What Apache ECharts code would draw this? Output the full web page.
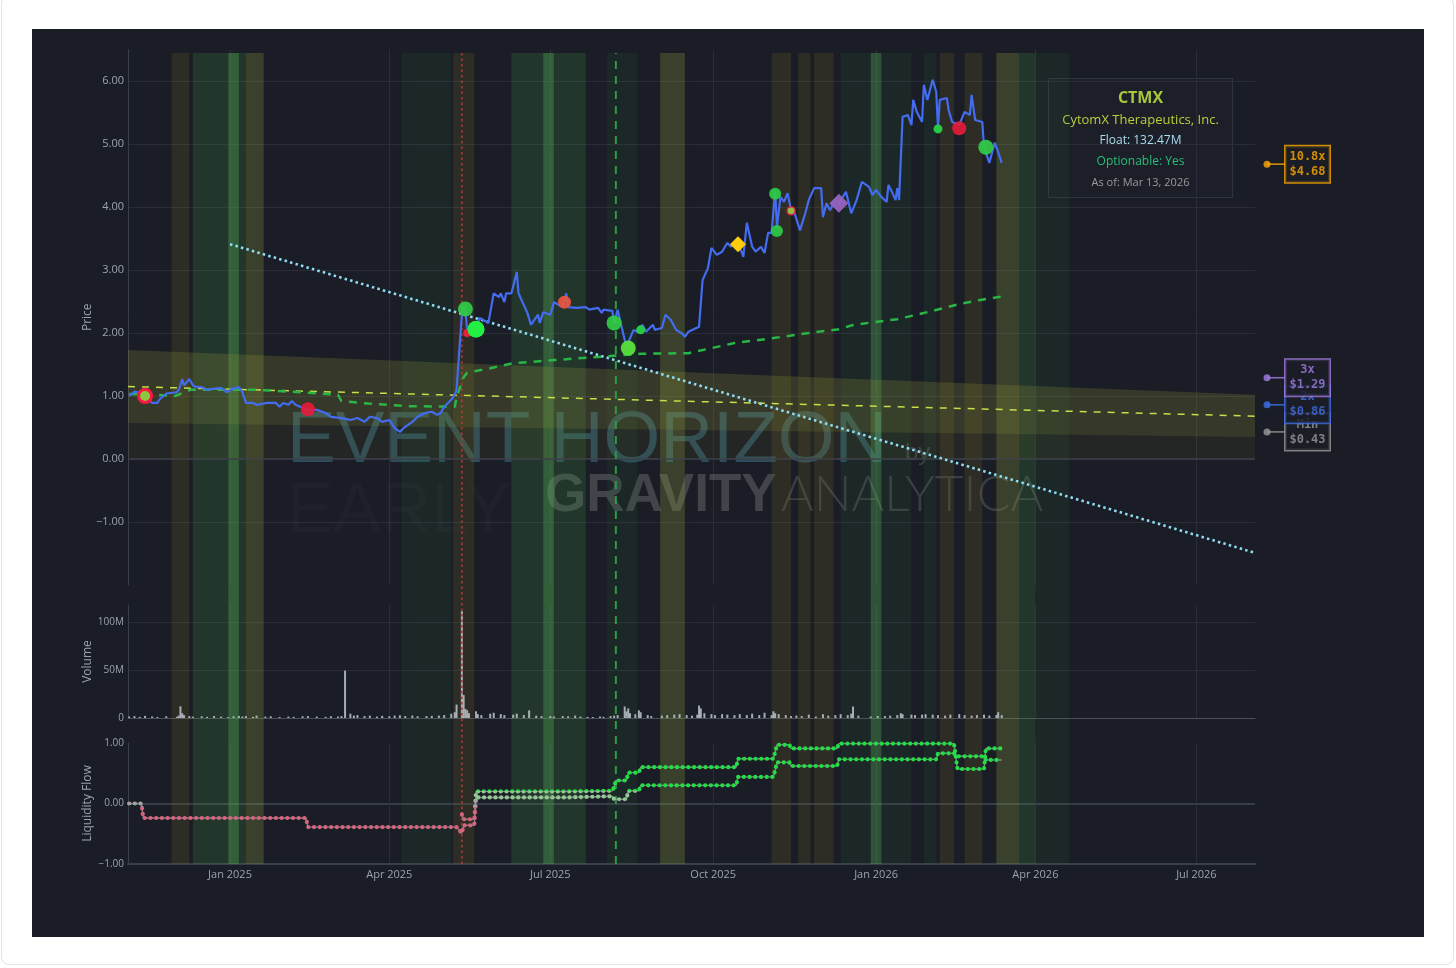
<!DOCTYPE html>
<html><head><meta charset="utf-8">
<script src="https://cdn.jsdelivr.net/npm/echarts@6/dist/echarts.min.js"></script>
<style>
html,body{margin:0;padding:0;background:#fff;width:1456px;height:968px;overflow:hidden}
#frame{position:absolute;left:1px;top:-4px;width:1453px;height:969px;border:1px solid #e2e3e6;border-radius:8px;box-sizing:border-box}
#panel{position:absolute;left:32px;top:29px;width:1392px;height:908px;background:#1a1d25}
#chart{position:absolute;left:0;top:0;width:1456px;height:968px}
</style></head><body>
<div id="frame"></div><div id="panel"></div><div id="chart"></div>
<script>
// ---------------- DATA ----------------
const priceSeries = [
['2024-11-05',1.00],['2024-11-08',1.07],['2024-11-11',1.05],['2024-11-14',1.00],['2024-11-18',0.89],['2024-11-19',0.86],['2024-11-21',0.89],['2024-11-22',0.94],['2024-11-26',1.04],['2024-12-02',1.06],['2024-12-03',1.10],['2024-12-04',1.17],['2024-12-05',1.27],['2024-12-06',1.17],['2024-12-09',1.27],['2024-12-11',1.17],['2024-12-13',1.14],['2024-12-16',1.14],['2024-12-19',1.10],['2024-12-20',1.13],['2024-12-27',1.13],['2024-12-30',1.06],
['2025-01-02',1.11],['2025-01-06',1.14],['2025-01-08',1.06],['2025-01-10',0.89],['2025-01-14',0.89],['2025-01-16',0.86],['2025-01-22',0.89],['2025-01-27',0.89],['2025-01-29',0.83],['2025-01-31',0.89],['2025-02-03',0.86],['2025-02-05',0.92],['2025-02-07',0.86],['2025-02-14',0.78],['2025-02-19',0.78],['2025-02-24',0.73],['2025-02-27',0.67],['2025-03-05',0.65],['2025-03-10',0.62],['2025-03-14',0.65],['2025-03-18',0.59],['2025-03-21',0.67],['2025-03-25',0.65],['2025-03-28',0.59],['2025-04-01',0.62],['2025-04-04',0.49],['2025-04-07',0.43],['2025-04-09',0.49],['2025-04-14',0.59],['2025-04-17',0.67],['2025-04-21',0.73],['2025-04-25',0.75],['2025-04-28',0.70],['2025-04-30',0.73],['2025-05-02',0.83],['2025-05-06',0.94],['2025-05-08',1.02],['2025-05-09',1.10],
['2025-05-12',2.30],['2025-05-13',2.42],['2025-05-14',2.38],['2025-05-15',2.02],['2025-05-20',2.08],['2025-05-22',2.24],['2025-05-27',2.16],['2025-05-30',2.63],['2025-06-02',2.57],['2025-06-03',2.63],['2025-06-05',2.49],['2025-06-06',2.63],['2025-06-09',2.63],['2025-06-12',2.97],['2025-06-13',2.63],['2025-06-18',2.32],['2025-06-20',2.13],['2025-06-24',2.29],['2025-06-25',2.16],['2025-06-27',2.33],['2025-07-01',2.29],['2025-07-03',2.49],['2025-07-08',2.41],['2025-07-10',2.63],['2025-07-11',2.41],['2025-07-16',2.40],['2025-07-21',2.41],['2025-07-23',2.37],['2025-07-28',2.40],['2025-07-30',2.32],['2025-07-31',2.37],['2025-08-05',2.35],['2025-08-06',2.16],['2025-08-08',2.37],['2025-08-12',1.89],['2025-08-13',1.78],['2025-08-17',2.05],['2025-08-19',2.02],['2025-08-22',2.13],['2025-08-24',2.02],['2025-08-28',2.13],['2025-08-29',2.05],['2025-09-02',2.08],['2025-09-04',2.29],['2025-09-07',2.21],['2025-09-10',2.05],['2025-09-13',2.00],['2025-09-15',1.94],['2025-09-17',2.02],['2025-09-18',2.00],['2025-09-23',2.10],['2025-09-25',2.84],['2025-09-28',3.03],['2025-09-30',3.35],
['2025-10-03',3.24],['2025-10-06',3.29],['2025-10-09',3.43],['2025-10-11',3.37],['2025-10-14',3.44],['2025-10-17',3.29],['2025-10-18',3.21],['2025-10-20',3.75],['2025-10-23',3.37],['2025-10-25',3.29],['2025-10-28',3.37],['2025-10-30',3.27],['2025-11-01',3.59],['2025-11-03',3.59],['2025-11-05',4.27],['2025-11-06',3.68],['2025-11-08',4.16],['2025-11-10',4.08],['2025-11-12',4.22],['2025-11-14',3.95],['2025-11-16',3.90],['2025-11-19',3.63],['2025-11-22',3.90],['2025-11-24',4.11],['2025-11-27',4.30],['2025-12-01',4.30],['2025-12-02',3.84],['2025-12-04',4.06],['2025-12-06',3.95],['2025-12-09',4.11],['2025-12-11',4.06],['2025-12-15',4.24],['2025-12-18',3.90],['2025-12-21',4.11],['2025-12-24',4.40],['2025-12-28',4.32],['2025-12-30',4.19],
['2026-01-01',4.27],['2026-01-04',4.16],['2026-01-07',4.08],['2026-01-08',4.35],['2026-01-10',4.24],['2026-01-12',4.11],['2026-01-13',4.30],['2026-01-14',4.11],['2026-01-16',5.43],['2026-01-19',5.46],['2026-01-21',5.30],['2026-01-22',5.70],['2026-01-24',5.51],['2026-01-27',5.35],['2026-01-28',5.94],['2026-01-30',5.70],['2026-02-02',6.02],['2026-02-04',5.83],['2026-02-05',5.25],['2026-02-06',5.70],['2026-02-10',5.73],['2026-02-11',5.54],['2026-02-13',5.35],['2026-02-17',5.30],['2026-02-20',5.51],['2026-02-23',5.46],['2026-02-24',5.78],['2026-02-26',5.38],['2026-03-02',5.35],['2026-03-03',4.95],['2026-03-06',4.70],['2026-03-09',5.02],['2026-03-11',4.87],['2026-03-13',4.70]
];
const smaSeries = [
['2024-11-05',1.03],['2024-11-20',1.02],['2024-12-01',1.00],['2024-12-10',1.10],['2025-01-15',1.10],['2025-02-10',1.06],['2025-03-03',1.02],['2025-03-05',0.92],['2025-03-20',0.88],['2025-04-10',0.84],['2025-05-08',0.83],['2025-05-09',0.98],['2025-05-13',1.30],['2025-05-15',1.37],['2025-05-28',1.44],['2025-06-10',1.52],['2025-07-03',1.57],['2025-07-28',1.62],['2025-08-21',1.67],['2025-09-17',1.68],['2025-09-30',1.76],['2025-10-13',1.84],['2025-11-04',1.92],['2025-11-24',2.00],['2025-12-11',2.06],['2025-12-18',2.12],['2025-12-30',2.17],['2026-01-13',2.22],['2026-01-24',2.29],['2026-02-06',2.38],['2026-02-17',2.46],['2026-02-28',2.52],['2026-03-13',2.58]
];
const regressionDates = ['2024-11-04','2026-08-03'];
const regressionValues = [1.15, 0.68];
const channelOuterUpper = [1.73, 1.02];
const channelOuterLower = [0.00, 0.00];
const channelInnerUpper = [1.73, 1.02];
const channelInnerLower = [0.57, 0.35];
const trendDates = ['2025-01-01','2026-08-03'];
const trendValues = [3.41, -1.49];
const signals = [
['2024-11-14',1.00,'ring'],['2025-02-14',0.79,'red'],['2025-05-14',2.38,'green'],['2025-05-15',2.00,'redSmall'],['2025-05-20',2.06,'lime'],['2025-07-09',2.49,'orange'],['2025-08-06',2.16,'green'],['2025-08-14',1.76,'lime2'],['2025-08-21',2.05,'greenSmall'],['2025-10-15',3.41,'yellowDiamond'],['2025-11-05',4.21,'greenMid'],['2025-11-06',3.62,'greenMid'],['2025-11-14',3.94,'oliveRed'],['2025-12-11',4.06,'purpleDiamond'],['2026-02-05',5.24,'greenSmall'],['2026-02-17',5.25,'red'],['2026-03-04',4.95,'green']
];
const volumeSeries = [ // millions of shares
['2024-11-05',1.5],['2024-11-08',2.0],['2024-11-11',1.2],['2024-11-14',2.2],['2024-11-18',1.5],['2024-11-21',1.0],['2024-11-26',1.8],['2024-12-02',1.2],['2024-12-03',2.5],['2024-12-04',12.2],['2024-12-05',5],['2024-12-06',3],['2024-12-09',2],['2024-12-11',1.5],['2024-12-16',1.8],['2024-12-19',1.2],['2024-12-23',2],['2024-12-27',1.5],['2024-12-31',1],['2025-01-03',1.8],['2025-01-06',2.2],['2025-01-08',1.5],['2025-01-10',2],['2025-01-14',1.2],['2025-01-16',2.5],['2025-01-21',1.5],['2025-01-24',1.8],['2025-01-29',1.0],['2025-02-03',1.5],['2025-02-06',1.2],['2025-02-11',1.8],['2025-02-14',2],['2025-02-19',1.5],['2025-02-24',1.2],['2025-02-27',1.8],['2025-03-03',1.5],['2025-03-05',2.0],['2025-03-07',49.5],['2025-03-10',4.5],['2025-03-12',2.5],['2025-03-14',3.0],['2025-03-18',2.0],['2025-03-21',2.5],['2025-03-25',1.5],['2025-03-28',2.2],['2025-04-01',1.8],['2025-04-04',2.5],['2025-04-07',2.8],['2025-04-10',2.0],['2025-04-14',2.5],['2025-04-17',1.8],['2025-04-22',2.0],['2025-04-25',2.2],['2025-04-29',2.5],['2025-05-02',3.0],['2025-05-06',4.5],['2025-05-08',6],['2025-05-09',14],['2025-05-12',111.5],['2025-05-13',24],['2025-05-14',9.5],['2025-05-15',8],['2025-05-16',5],['2025-05-20',7],['2025-05-21',4],['2025-05-23',3],['2025-05-28',4.5],['2025-05-30',5.5],['2025-06-03',4],['2025-06-05',3],['2025-06-10',3.5],['2025-06-12',4.5],['2025-06-16',3],['2025-06-19',8],['2025-06-23',2.5],['2025-06-26',2],['2025-07-01',2],['2025-07-03',1.5],['2025-07-08',2],['2025-07-11',1.8],['2025-07-15',2.5],['2025-07-18',1.5],['2025-07-22',1.2],['2025-07-25',1.0],['2025-07-29',1.5],['2025-07-31',1.2],['2025-08-04',2],['2025-08-06',2.5],['2025-08-08',3],['2025-08-12',12],['2025-08-13',7],['2025-08-14',10],['2025-08-15',5],['2025-08-18',4],['2025-08-20',8],['2025-08-21',6],['2025-08-25',3],['2025-08-27',2],['2025-09-02',2.5],['2025-09-05',3],['2025-09-09',3.5],['2025-09-12',4],['2025-09-16',3],['2025-09-19',2.5],['2025-09-22',3.5],['2025-09-23',13],['2025-09-24',10],['2025-09-26',5],['2025-09-30',4],['2025-10-02',3],['2025-10-06',4],['2025-10-09',3.5],['2025-10-13',3],['2025-10-16',4],['2025-10-20',3],['2025-10-23',4.5],['2025-10-27',3],['2025-10-30',5.5],['2025-11-03',3],['2025-11-04',7],['2025-11-05',5],['2025-11-07',4],['2025-11-11',3],['2025-11-14',2],['2025-11-17',2.5],['2025-11-20',2],['2025-11-24',3.5],['2025-11-28',1.5],['2025-12-02',4],['2025-12-05',2.5],['2025-12-09',3],['2025-12-12',4],['2025-12-16',3],['2025-12-18',4.5],['2025-12-19',12],['2025-12-22',2.5],['2025-12-29',1.5],['2026-01-02',2],['2026-01-06',2],['2026-01-09',2.5],['2026-01-13',3],['2026-01-15',5],['2026-01-16',4],['2026-01-21',3.5],['2026-01-23',3],['2026-01-27',3.5],['2026-01-29',4],['2026-02-02',3.5],['2026-02-05',3],['2026-02-09',2.5],['2026-02-12',3.5],['2026-02-17',4],['2026-02-20',3],['2026-02-24',2.5],['2026-02-27',3],['2026-03-03',3.5],['2026-03-06',2.5],['2026-03-10',3],['2026-03-11',6],['2026-03-13',3]
];
const liquidityLower = [
['2024-11-05',0],['2024-11-12',0],['2024-11-13',-0.24],['2025-02-13',-0.24],['2025-02-14',-0.39],['2025-05-09',-0.39],['2025-05-12',-0.49],['2025-05-13',-0.36],['2025-05-19',-0.36],['2025-05-20',0.10],['2025-07-10',0.10],['2025-07-11',0.12],['2025-08-05',0.12],['2025-08-06',0.07],['2025-08-13',0.07],['2025-08-14',0.21],['2025-08-20',0.21],['2025-08-21',0.30],['2025-10-14',0.30],['2025-10-15',0.44],['2025-11-04',0.44],['2025-11-05',0.55],['2025-11-06',0.68],['2025-11-13',0.68],['2025-11-14',0.62],['2025-12-10',0.62],['2025-12-11',0.73],['2026-02-04',0.73],['2026-02-05',0.83],['2026-02-14',0.83],['2026-02-16',0.78],['2026-03-03',0.78],['2026-03-04',0.72],['2026-03-13',0.72]
];
const liquidityUpper = [
['2025-05-12',-0.18],['2025-05-13',-0.26],['2025-05-19',-0.26],['2025-05-20',0.20],['2025-07-10',0.20],['2025-07-11',0.21],['2025-08-05',0.21],['2025-08-06',0.27],['2025-08-07',0.38],['2025-08-13',0.38],['2025-08-14',0.51],['2025-08-20',0.51],['2025-08-21',0.60],['2025-10-14',0.60],['2025-10-15',0.74],['2025-11-04',0.74],['2025-11-05',0.85],['2025-11-06',0.97],['2025-11-13',0.97],['2025-11-14',0.91],['2025-12-10',0.91],['2025-12-11',0.99],['2026-02-14',0.99],['2026-02-16',0.57],['2026-03-03',0.57],['2026-03-04',0.91],['2026-03-13',0.91]
];
const bandStarts = ['2024-11-29','2024-12-11','2024-12-31','2025-01-10','2025-04-08','2025-05-07','2025-06-09','2025-06-27','2025-08-02','2025-09-01','2025-11-03','2025-11-18','2025-11-27','2025-12-12','2025-12-29','2026-01-28','2026-02-06','2026-02-20','2026-03-10','2026-03-23','2026-04-01'];
const bandEnds   = ['2024-12-09','2025-01-10','2025-01-06','2025-01-20','2025-05-06','2025-05-19','2025-07-21','2025-07-03','2025-08-19','2025-09-15','2025-11-14','2025-11-25','2025-12-08','2026-01-21','2026-01-04','2026-02-04','2026-02-14','2026-03-02','2026-03-23','2026-04-01','2026-04-20'];
const bandKinds  = ['brown','green','bright','olive','dark','brown','green','bright','dark','olive','brown','brown','brown','dark','bright','dark','brown','brown','olive','green','dark'];
const eventDates = ['2025-05-12','2025-08-07'];
const eventKinds = ['red','green'];
const tickDates  = ['2025-01-01','2025-04-01','2025-07-01','2025-10-01','2026-01-01','2026-04-01','2026-07-01'];
const tickLabels = ['Jan 2025','Apr 2025','Jul 2025','Oct 2025','Jan 2026','Apr 2026','Jul 2026'];
const levelNames  = ['Min','2x','3x','10.8x'];
const levelPrices = [0.43, 0.86, 1.29, 4.68];
const levelColors = ['#9a9a9a','#3f6fe8','#a27ee6','#ffaa00'];

// ---------------- HELPERS ----------------
const tp = s => Date.UTC(+s.slice(0,4), +s.slice(5,7) - 1, +s.slice(8,10));
const DAY = 864e5;
const X_MIN = tp('2025-01-01') - 57.63 * DAY;
const X_MAX = tp('2025-01-01') + 579.1 * DAY;
const tickVals = tickDates.map(tp);
const FONT = '"Open Sans", "Noto Sans", sans-serif';
const AXC = '#9ca3ad', GRIDC = '#2a2d39', LINEC = '#3a3e4b';
const dayVal = s => s === regressionDates[0] ? X_MIN : (s === regressionDates[1] ? X_MAX : tp(s));
const minus = s => s.replace('-', '\u2212');

const bandColors = {
  brown: 'rgba(120,105,40,0.21)',
  green: 'rgba(70,150,70,0.21)',
  bright: 'rgba(90,185,90,0.30)',
  olive: 'rgba(140,158,60,0.28)',
  dark: 'rgba(50,130,60,0.11)'
};
const sigStyles = {
  ring:{symbol:'circle',size:13,color:'#8cc63f',border:'#ff1744',bw:3},
  red:{symbol:'circle',size:14,color:'rgba(232,28,58,0.9)'},
  redSmall:{symbol:'circle',size:8,color:'#e0233a'},
  green:{symbol:'circle',size:15,color:'rgba(50,205,70,0.92)'},
  greenMid:{symbol:'circle',size:12,color:'rgba(45,205,70,0.92)'},
  greenSmall:{symbol:'circle',size:9,color:'rgba(40,210,70,0.95)'},
  lime:{symbol:'circle',size:17,color:'#22ee44'},
  lime2:{symbol:'circle',size:15,color:'rgba(90,225,60,0.95)'},
  orange:{symbol:'circle',size:13,color:'rgba(230,85,65,0.95)'},
  oliveRed:{symbol:'circle',size:8,color:'#8fbf45',border:'#e02040',bw:1.5},
  yellowDiamond:{symbol:'diamond',size:16,color:'#ffcc10'},
  purpleDiamond:{symbol:'diamond',size:19,color:'rgba(150,100,190,0.95)'}
};

const chart = echarts.init(document.getElementById('chart'), null, {renderer:'canvas'});

const grids = [
  {left:128, right:201, top:49.5, height:535.5},   // price  (-2 .. 6.5)
  {left:128, right:201, top:605, height:113},      // volume
  {left:128, right:201, top:743, height:121},      // liquidity
  {left:128, right:201, top:53, height:811},       // full-height overlay
  {left:1263, width:8, top:49.5, height:535.5}     // level markers
];

const labelFor = v => { const k = tickVals.findIndex(t => Math.abs(t - v) < DAY); return k >= 0 ? tickLabels[k] : ''; };
const xAxes = [0,1,2,3].map(i => ({
  type:'value', gridIndex:i, min:X_MIN, max:X_MAX, scale:true,
  axisLine:{show: i===1 || i===2, onZero:false, lineStyle:{color: i===1 ? '#4b4e59' : '#3a3e4b', width: i===2 ? 2 : 1}},
  axisTick:{show:false, customValues:tickVals},
  axisLabel:{show: i===2, customValues:tickVals, color:AXC, fontSize:11, fontFamily:FONT, margin:5, formatter: labelFor},
  splitLine:{show: i<3, lineStyle:{color:GRIDC, width:1}}
}));
xAxes.push({type:'value', gridIndex:4, min:0, max:1, show:false});

const yName = (n, gap) => ({name:n, nameLocation:'middle', nameGap:gap, nameMoveOverlap:false, nameTextStyle:{color:AXC, fontSize:12, fontFamily:FONT}});
const yAxes = [
  Object.assign({type:'value', gridIndex:0, min:-2, max:6.5, interval:1,
    axisLine:{show:true, lineStyle:{color:LINEC}}, axisTick:{show:false},
    axisLabel:{color:AXC, fontSize:11, fontFamily:FONT, margin:4, formatter: v => (v < -1.5 || v > 6.2) ? '' : minus(v.toFixed(2))},
    splitLine:{show:true, showMinLine:false, showMaxLine:false, lineStyle:{color:GRIDC}}}, yName('Price', 34)),
  Object.assign({type:'value', gridIndex:1, min:0, max:118e6, interval:50e6,
    axisLine:{show:true, lineStyle:{color:LINEC}}, axisTick:{show:false},
    axisLabel:{color:AXC, fontSize:10, fontFamily:FONT, margin:4, formatter: v => v === 0 ? '0' : (v > 1.05e8 ? '' : (v/1e6) + 'M')},
    splitLine:{show:true, showMinLine:false, showMaxLine:false, lineStyle:{color:GRIDC}}}, yName('Volume', 34)),
  Object.assign({type:'value', gridIndex:2, min:-1, max:1, interval:1,
    axisLine:{show:true, lineStyle:{color:LINEC}}, axisTick:{show:false},
    axisLabel:{color:AXC, fontSize:10, fontFamily:FONT, margin:4, formatter: v => minus(v.toFixed(2))},
    splitLine:{show:true, showMinLine:false, showMaxLine:false, lineStyle:{color:'#383b48', width:2}}}, yName('Liquidity Flow', 34)),
  {type:'value', gridIndex:3, min:0, max:1, show:false},
  {type:'value', gridIndex:4, min:-2, max:6.5, show:false}
];

const series = [];
// vertical shaded bands spanning all panels
series.push({type:'custom', xAxisIndex:3, yAxisIndex:3, silent:true, z:1,
  data: bandStarts.map(s => [tp(s), 0.5]),
  renderItem: (p, api) => {
    const i = p.dataIndex;
    const a = api.coord([tp(bandStarts[i]), 1]);
    const b = api.coord([tp(bandEnds[i]), 0]);
    return {type:'rect', shape:{x:a[0], y:a[1], width:b[0]-a[0], height:b[1]-a[1]}, style:{fill:bandColors[bandKinds[i]]}};
  }});
// zero line emphasis in price panel
series.push({type:'line', xAxisIndex:0, yAxisIndex:0, silent:true, z:1, symbol:'none',
  data:[[X_MIN, 0], [X_MAX, 0]], lineStyle:{color:'#3a3d4a', width:1.5}});
// regression channel polygons
function channel(upper, lower, fill) {
  return {type:'custom', xAxisIndex:0, yAxisIndex:0, silent:true, z:2, clip:true,
    data:[[X_MIN, upper[0]]],
    renderItem: (p, api) => {
      const x0 = dayVal(regressionDates[0]), x1 = dayVal(regressionDates[1]);
      const pts = [api.coord([x0, upper[0]]), api.coord([x1, upper[1]]), api.coord([x1, lower[1]]), api.coord([x0, lower[0]])];
      return {type:'polygon', shape:{points:pts}, style:{fill:fill}};
    }};
}
series.push(channel(channelOuterUpper, channelOuterLower, 'rgba(125,120,40,0.10)'));
series.push(channel(channelInnerUpper, channelInnerLower, 'rgba(160,165,70,0.15)'));
// event vertical lines
eventDates.forEach((d, i) => {
  const red = eventKinds[i] === 'red';
  series.push({type:'line', xAxisIndex:3, yAxisIndex:3, silent:true, z:3, symbol:'none',
    data:[[tp(d), 0], [tp(d), 1]],
    lineStyle:{color: red ? '#b8333a' : '#2e9a44', width: red ? 1.6 : 2, type: red ? [2.5, 3] : [8, 7]}});
});
// regression line (yellow dashed)
series.push({type:'line', xAxisIndex:0, yAxisIndex:0, silent:true, z:3, symbol:'none',
  data: regressionDates.map((d, i) => [dayVal(d), regressionValues[i]]),
  lineStyle:{color:'#c9dc4c', width:1.5, type:[7, 7]}});
// trend line (cyan dotted)
series.push({type:'line', xAxisIndex:0, yAxisIndex:0, silent:true, z:3, symbol:'none',
  data: trendDates.map((d, i) => [i === 1 ? X_MAX : tp(d), trendValues[i]]),
  lineStyle:{color:'#8fdcf2', width:2.6, type:[2.5, 3.2]}});
// moving average (green dashed)
series.push({type:'line', xAxisIndex:0, yAxisIndex:0, silent:true, z:3, symbol:'none',
  data: smaSeries.map(([d, v]) => [tp(d), v]),
  lineStyle:{color:'#2ab646', width:2.5, type:[8, 7]}});
// price
series.push({type:'line', xAxisIndex:0, yAxisIndex:0, silent:true, z:4, symbol:'none',
  data: priceSeries.map(([d, v]) => [tp(d), v]),
  lineStyle:{color:'#436cf0', width:2.2}});
// signal markers
series.push({type:'scatter', xAxisIndex:0, yAxisIndex:0, silent:true, z:5,
  data: signals.map(([d, v, k]) => {
    const s = sigStyles[k];
    return {value:[tp(d), v], symbol:s.symbol, symbolSize:s.size,
      itemStyle:{color:s.color, borderColor:s.border || 'transparent', borderWidth:s.bw || 0, opacity:1}};
  })});
// volume bars
series.push({type:'bar', xAxisIndex:1, yAxisIndex:1, silent:true, z:3, barWidth:2,
  data: volumeSeries.map(([d, v]) => [tp(d), v * 1e6]),
  itemStyle:{color:'rgba(192,198,206,0.85)'}});
// liquidity flow
const liqDotIdx = [];
[liquidityLower, liquidityUpper].forEach(arr => {
  const data = arr.map(([d, v]) => [tp(d), v]);
  series.push({type:'line', xAxisIndex:2, yAxisIndex:2, silent:true, z:3, symbol:'none', data,
    lineStyle:{color:'#80838a', width:1.4}});
  liqDotIdx.push(series.length);
  series.push({type:'line', xAxisIndex:2, yAxisIndex:2, silent:true, z:4, symbol:'none', data,
    lineStyle:{width:4.2, type:[0.1, 5.6], cap:'round'}});
});
// level markers on the right
levelNames.forEach((n, i) => {
  const c = levelColors[i];
  series.push({type:'scatter', xAxisIndex:4, yAxisIndex:4, silent:true, z:10 + i*2,
    data:[[0.5, levelPrices[i]]], symbol:'rect', symbolSize:[18, 1.6], symbolOffset:[9, 0], itemStyle:{color:c}});
  series.push({type:'scatter', xAxisIndex:4, yAxisIndex:4, silent:true, z:11 + i*2,
    data:[[0.5, levelPrices[i]]], symbol:'circle', symbolSize:7, itemStyle:{color:c},
    label:{show:true, position:'right', distance:15,
      formatter: '{a|' + n + '}\n{a|$' + levelPrices[i].toFixed(2) + '}',
      backgroundColor:'#1b1e27', borderColor:c, borderWidth:1.5, padding:[3,4,3,4],
      rich:{a:{width:36, align:'center', color:c, fontFamily:'"DejaVu Sans Mono", monospace', fontWeight:'bold', fontSize:12, lineHeight:15}}}});
});

const graphic = [
  {type:'text', left:287, top:405, z:1, silent:true, style:{text:'EVENT HORIZON', fill:'rgba(70,140,168,0.42)', font:'400 73px "Liberation Sans", Arial, sans-serif'}},
  {type:'text', left:905, top:441, z:1, silent:true, style:{text:'by', fill:'rgba(120,125,130,0.35)', font:'24px "Liberation Sans", sans-serif'}},
  {type:'text', left:287, top:478, z:1, silent:true, style:{text:'EARLY', fill:'rgba(110,110,115,0.05)', font:'400 70px "Liberation Sans", sans-serif'}},
  {type:'text', left:545, top:470, z:1, silent:true, style:{text:'GRAVITY', fill:'rgba(130,132,135,0.38)', font:'bold 53px "Liberation Sans", sans-serif'}},
  {type:'text', left:781, top:470, z:1, silent:true, style:{text:'ANALYTICA', fill:'rgba(130,132,135,0.32)', font:'300 50px "Lato", "Liberation Sans", sans-serif'}},
  {type:'group', left:1048, top:78, z:20, silent:true, children:[
    {type:'rect', shape:{x:0, y:0, width:184, height:119}, style:{fill:'#1c1f27', stroke:'#30343f', lineWidth:1}},
    {type:'text', x:92, y:20, style:{text:'CTMX', fill:'#a8c83c', font:'bold 16px "Open Sans", sans-serif', align:'center', verticalAlign:'middle'}},
    {type:'text', x:92, y:42, style:{text:'CytomX Therapeutics, Inc.', fill:'#b5cf3e', font:'13px "Open Sans", sans-serif', align:'center', verticalAlign:'middle'}},
    {type:'text', x:92, y:62, style:{text:'Float: 132.47M', fill:'#aadcf3', font:'12px "Open Sans", sans-serif', align:'center', verticalAlign:'middle'}},
    {type:'text', x:92, y:83, style:{text:'Optionable: Yes', fill:'#26bf79', font:'12px "Open Sans", sans-serif', align:'center', verticalAlign:'middle'}},
    {type:'text', x:92, y:104, style:{text:'As of: Mar 13, 2026', fill:'#9a9b9e', font:'11px "Open Sans", sans-serif', align:'center', verticalAlign:'middle'}}
  ]}
];

chart.setOption({
  backgroundColor:'transparent',
  animation:false,
  grid:grids, xAxis:xAxes, yAxis:yAxes, series, graphic,
  visualMap:[{type:'piecewise', show:false, seriesIndex:liqDotIdx, dimension:1,
    pieces:[{lt:-0.05, color:'#d8637f'}, {gte:-0.05, lt:0.05, color:'#a2a2a2'}, {gte:0.05, lt:0.205, color:'#93c893'}, {gte:0.205, color:'#22dd44'}]}]
});
</script></body></html>
